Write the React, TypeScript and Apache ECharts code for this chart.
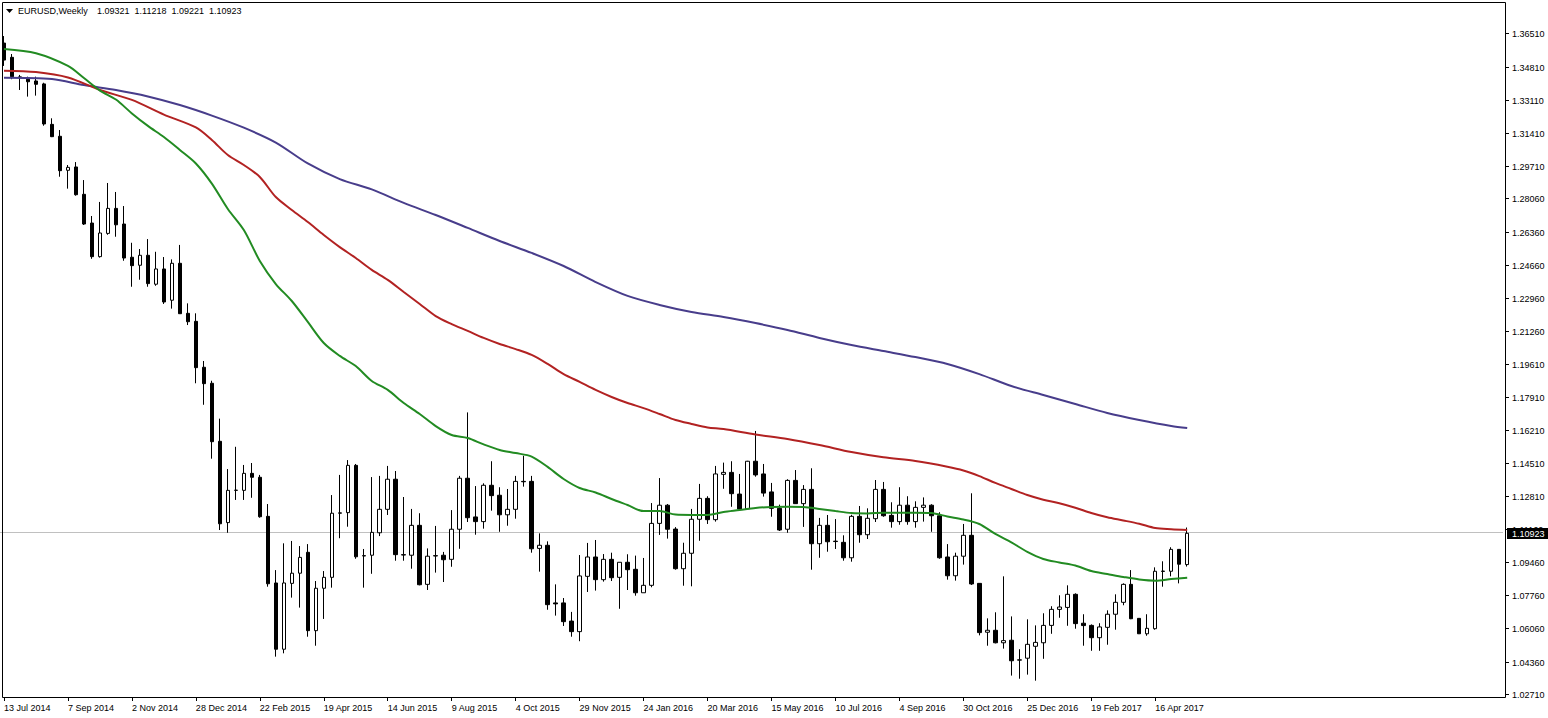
import React, { useEffect, useRef } from "react";
import * as echarts from "echarts";

// ---- Data (weekly EURUSD candles) ----
const open = [
  1.3601, 1.3528, 1.3428, 1.3416, 1.3407, 1.3392, 1.3185, 1.3124, 1.2950, 1.2967,
  1.2827, 1.2680, 1.2508, 1.2627, 1.2755, 1.2675, 1.2505, 1.2464, 1.2515, 1.2367,
  1.2445, 1.2285, 1.2474, 1.2218, 1.2177, 1.1942, 1.1860, 1.1563, 1.1147, 1.1312,
  1.1312, 1.1399, 1.1379, 1.1179, 1.0838, 1.0499, 1.0836, 1.0888, 1.0995, 1.0594,
  1.0811, 1.0867, 1.1195, 1.1198, 1.1440, 1.0976, 1.0980, 1.1095, 1.1215, 1.1369,
  1.0983, 1.0980, 1.1133, 1.0831, 1.0976, 1.0980, 1.0959, 1.1113, 1.1374, 1.1176,
  1.1152, 1.1338, 1.1287, 1.1187, 1.1215, 1.1358, 1.1358, 1.1015, 1.1031, 1.0736,
  1.0736, 1.0643, 1.0589, 1.0872, 1.0971, 1.0855, 1.0959, 1.0867, 1.0944, 1.0908,
  1.0788, 1.0826, 1.1143, 1.1236, 1.1114, 1.0911, 1.0990, 1.1164, 1.1271, 1.1162,
  1.1394, 1.1404, 1.1293, 1.1217, 1.1461, 1.1396, 1.1304, 1.1220, 1.1113, 1.1363,
  1.1244, 1.1317, 1.1039, 1.1133, 1.1052, 1.1046, 1.0967, 1.1179, 1.1085, 1.1167,
  1.1317, 1.1184, 1.1152, 1.1236, 1.1152, 1.1225, 1.1236, 1.1182, 1.0971, 1.0875,
  1.0975, 1.1082, 1.0836, 1.0586, 1.0596, 1.0532, 1.0545, 1.0443, 1.0453, 1.0514,
  1.0532, 1.0621, 1.0703, 1.0713, 1.0780, 1.0632, 1.0621, 1.0558, 1.0611, 1.0678,
  1.0739, 1.0831, 1.0657, 1.0578, 1.0604, 1.0897, 1.0898, 1.1010, 1.09321,
];
const close = [
  1.3514, 1.3429, 1.3426, 1.3403, 1.3390, 1.3187, 1.3122, 1.2948, 1.2965, 1.2825,
  1.2675, 1.2508, 1.2629, 1.2755, 1.2671, 1.2501, 1.2462, 1.2515, 1.2370, 1.2445,
  1.2276, 1.2474, 1.2216, 1.2175, 1.1940, 1.1858, 1.1561, 1.1141, 1.1312, 1.1313,
  1.1399, 1.1379, 1.1177, 1.0834, 1.0499, 1.0838, 1.0888, 1.0969, 1.0594, 1.0811,
  1.0867, 1.1195, 1.1197, 1.1440, 1.0972, 1.0978, 1.1097, 1.1215, 1.1369, 1.0983,
  1.0981, 1.1133, 1.0829, 1.0975, 1.0978, 1.0957, 1.1113, 1.1374, 1.1172, 1.1152,
  1.1338, 1.1285, 1.1187, 1.1215, 1.1358, 1.1356, 1.1013, 1.1031, 1.0727, 1.0731,
  1.0640, 1.0589, 1.0874, 1.0971, 1.0855, 1.0959, 1.0865, 1.0944, 1.0906, 1.0788,
  1.0826, 1.1143, 1.1236, 1.1113, 1.0911, 1.0990, 1.1164, 1.1271, 1.1162, 1.1396,
  1.1404, 1.1295, 1.1217, 1.1461, 1.1391, 1.1298, 1.1220, 1.1109, 1.1363, 1.1244,
  1.1317, 1.1039, 1.1133, 1.1049, 1.1050, 1.0967, 1.1179, 1.1085, 1.1169, 1.1317,
  1.1182, 1.1152, 1.1236, 1.1152, 1.1225, 1.1236, 1.1182, 1.0967, 1.0875, 1.0975,
  1.1082, 1.0833, 1.0584, 1.0596, 1.0532, 1.0543, 1.0440, 1.0445, 1.0524, 1.0534,
  1.0621, 1.0703, 1.0715, 1.0780, 1.0630, 1.0620, 1.0558, 1.0613, 1.0678, 1.0739,
  1.0831, 1.0655, 1.0578, 1.0606, 1.0898, 1.0899, 1.1010, 1.0934, 1.10923,
];
const low = [
  1.3484, 1.3416, 1.3361, 1.3327, 1.3332, 1.3178, 1.3120, 1.2917, 1.2856, 1.2820,
  1.2670, 1.2497, 1.2503, 1.2620, 1.2610, 1.2487, 1.2354, 1.2390, 1.2354, 1.2359,
  1.2266, 1.2242, 1.2215, 1.2158, 1.1860, 1.1750, 1.1474, 1.1109, 1.1095, 1.1263,
  1.1263, 1.1274, 1.1172, 1.0819, 1.0461, 1.0478, 1.0763, 1.0712, 1.0563, 1.0517,
  1.0654, 1.0814, 1.1067, 1.1126, 1.0962, 1.0814, 1.0885, 1.1078, 1.1186, 1.0952,
  1.0952, 1.0911, 1.0826, 1.0802, 1.0891, 1.0843, 1.0921, 1.1013, 1.1150, 1.1085,
  1.1116, 1.1208, 1.1100, 1.1131, 1.1167, 1.1331, 1.0993, 1.0896, 1.0701, 1.0671,
  1.0618, 1.0563, 1.0540, 1.0792, 1.0799, 1.0845, 1.0848, 1.0706, 1.0802, 1.0773,
  1.0788, 1.0816, 1.1084, 1.1065, 1.0906, 1.0824, 1.0821, 1.1054, 1.1140, 1.1152,
  1.1320, 1.1228, 1.1211, 1.1215, 1.1382, 1.1280, 1.1177, 1.1104, 1.1095, 1.1243,
  1.1125, 1.0906, 1.0967, 1.0998, 1.1012, 1.0952, 1.0947, 1.1044, 1.1063, 1.1150,
  1.1177, 1.1121, 1.1136, 1.1136, 1.1121, 1.1152, 1.1100, 1.0962, 1.0855, 1.0850,
  1.0932, 1.0828, 1.0570, 1.0517, 1.0529, 1.0502, 1.0364, 1.0348, 1.0369, 1.0338,
  1.0450, 1.0578, 1.0660, 1.0619, 1.0604, 1.0517, 1.0491, 1.0491, 1.0522, 1.0599,
  1.0724, 1.0653, 1.0577, 1.0568, 1.0599, 1.0819, 1.0872, 1.0836, 1.09221,
];
const high = [
  1.3637, 1.3545, 1.3438, 1.3429, 1.3429, 1.3398, 1.3216, 1.3156, 1.2977, 1.2992,
  1.2900, 1.2716, 1.2788, 1.2885, 1.2839, 1.2767, 1.2579, 1.2547, 1.2598, 1.2533,
  1.2506, 1.2494, 1.2568, 1.2269, 1.2218, 1.1974, 1.1873, 1.1679, 1.1421, 1.1535,
  1.1442, 1.1452, 1.1391, 1.1242, 1.0904, 1.1041, 1.1053, 1.1027, 1.1037, 1.0848,
  1.0899, 1.1288, 1.1391, 1.1467, 1.1447, 1.1012, 1.1380, 1.1386, 1.1437, 1.1411,
  1.1278, 1.1217, 1.1195, 1.1015, 1.1130, 1.0997, 1.1211, 1.1386, 1.1711, 1.1334,
  1.1348, 1.1461, 1.1328, 1.1319, 1.1386, 1.1489, 1.1386, 1.1092, 1.1051, 1.0831,
  1.0761, 1.0690, 1.0981, 1.1043, 1.1058, 1.0986, 1.0993, 1.0944, 1.0985, 1.0978,
  1.0966, 1.1247, 1.1375, 1.1242, 1.1124, 1.1044, 1.1217, 1.1345, 1.1282, 1.1437,
  1.1454, 1.1461, 1.1396, 1.1463, 1.1616, 1.1447, 1.1350, 1.1239, 1.1369, 1.1416,
  1.1339, 1.1425, 1.1171, 1.1186, 1.1165, 1.1082, 1.1187, 1.1232, 1.1220, 1.1365,
  1.1355, 1.1251, 1.1328, 1.1282, 1.1256, 1.1276, 1.1241, 1.1200, 1.1037, 1.0993,
  1.1140, 1.1297, 1.0836, 1.0657, 1.0688, 1.0872, 1.0667, 1.0499, 1.0652, 1.0621,
  1.0683, 1.0719, 1.0775, 1.0826, 1.0785, 1.0678, 1.0626, 1.0632, 1.0698, 1.0780,
  1.0836, 1.0904, 1.0657, 1.0678, 1.0918, 1.0949, 1.1021, 1.1010, 1.11218,
];

// Moving averages (week index -> value)
const maFastIdx = [0, 4, 8, 10, 12, 14, 16, 18, 20, 22, 24, 26, 28, 30, 32, 34, 36, 38, 40, 42, 44, 46, 48, 50, 52, 54, 56, 58, 60, 62, 64, 66, 68, 70, 72, 74, 76, 78, 80, 82, 84, 86, 88, 90, 92, 94, 96, 98, 100, 102, 104, 106, 108, 110, 112, 114, 116, 118, 120, 122, 124, 126, 128, 130, 132, 134, 136, 138, 140, 142, 144, 146, 148];
const maFastVal = [1.3571, 1.3549, 1.3484, 1.3422, 1.3358, 1.3312, 1.3241, 1.3177, 1.3120, 1.3054, 1.2985, 1.2882, 1.2752, 1.2644, 1.2486, 1.2368, 1.2281, 1.2174, 1.2066, 1.2000, 1.1948, 1.1872, 1.1826, 1.1759, 1.1703, 1.1641, 1.1595, 1.1580, 1.1547, 1.1519, 1.1503, 1.1485, 1.1432, 1.1370, 1.1324, 1.1301, 1.1268, 1.1237, 1.1206, 1.1206, 1.1188, 1.1186, 1.1186, 1.1201, 1.1211, 1.1222, 1.1227, 1.1228, 1.1227, 1.1217, 1.1206, 1.1196, 1.1194, 1.1198, 1.1198, 1.1198, 1.1196, 1.1178, 1.1163, 1.1140, 1.1089, 1.1046, 1.0997, 1.0961, 1.0943, 1.0927, 1.0899, 1.0884, 1.0869, 1.0856, 1.0850, 1.0858, 1.0865];

const maMidIdx = [0, 4, 8, 12, 16, 20, 24, 26, 28, 30, 32, 34, 36, 38, 40, 42, 44, 46, 48, 50, 52, 54, 56, 58, 60, 62, 64, 66, 68, 70, 72, 74, 76, 78, 80, 82, 84, 86, 88, 90, 94, 98, 102, 106, 110, 114, 118, 120, 122, 124, 126, 128, 130, 132, 134, 136, 138, 140, 142, 144, 146, 148];
const maMidVal = [1.3460, 1.3453, 1.3425, 1.3361, 1.3310, 1.3235, 1.3169, 1.3105, 1.3028, 1.2977, 1.2916, 1.2813, 1.2747, 1.2685, 1.2619, 1.2557, 1.2501, 1.2440, 1.2389, 1.2327, 1.2266, 1.2204, 1.2163, 1.2128, 1.2092, 1.2061, 1.2035, 1.2005, 1.1959, 1.1907, 1.1867, 1.1826, 1.1790, 1.1759, 1.1733, 1.1703, 1.1672, 1.1652, 1.1634, 1.1626, 1.1598, 1.1575, 1.1544, 1.1508, 1.1481, 1.1462, 1.1433, 1.1414, 1.1385, 1.1350, 1.1319, 1.1288, 1.1264, 1.1246, 1.1223, 1.1196, 1.1174, 1.1158, 1.1141, 1.1119, 1.1113, 1.1109];

const maSlowIdx = [0, 6, 10, 14, 18, 22, 26, 30, 34, 38, 42, 46, 50, 54, 58, 62, 66, 70, 74, 78, 82, 86, 90, 94, 98, 102, 106, 110, 114, 118, 122, 126, 130, 134, 138, 142, 146, 148];
const maSlowVal = [1.3424, 1.3417, 1.3386, 1.3361, 1.3328, 1.3284, 1.3230, 1.3168, 1.3092, 1.2985, 1.2905, 1.2852, 1.2783, 1.2721, 1.2655, 1.2588, 1.2527, 1.2460, 1.2378, 1.2307, 1.2261, 1.2225, 1.2199, 1.2168, 1.2133, 1.2092, 1.2056, 1.2025, 1.1994, 1.1959, 1.1907, 1.1846, 1.1800, 1.1754, 1.1708, 1.1672, 1.1641, 1.1631];

const dateLabels = [
  "13 Jul 2014", "7 Sep 2014", "2 Nov 2014", "28 Dec 2014", "22 Feb 2015",
  "19 Apr 2015", "14 Jun 2015", "9 Aug 2015", "4 Oct 2015", "29 Nov 2015",
  "24 Jan 2016", "20 Mar 2016", "15 May 2016", "10 Jul 2016", "4 Sep 2016",
  "30 Oct 2016", "25 Dec 2016", "19 Feb 2017", "16 Apr 2017",
];
const labelEvery = 8;

const priceTicks = [
  1.3651, 1.3481, 1.3311, 1.3141, 1.2971, 1.2806, 1.2636, 1.2466, 1.2296, 1.2126,
  1.1961, 1.1791, 1.1621, 1.1451, 1.1281, 1.1116, 1.0946, 1.0776, 1.0606, 1.0436, 1.0271,
];
const lastPrice = 1.10923;
const headerTitle = "EURUSD,Weekly";
const headerValues = "1.09321 1.11218 1.09221 1.10923";

const totalSlots = 188;
const yMin = 1.02545;
const yMax = 1.38112;

const FONT = "'Liberation Sans', Arial, sans-serif";

export default function App() {
  const ref = useRef<HTMLDivElement>(null);

  useEffect(() => {
    if (!ref.current) return;
    const chart = echarts.init(ref.current, undefined, { renderer: "svg" });

    const cats = Array.from({ length: totalSlots }, (_, i) => String(i));
    const candleData = open.map((o, i) => [o, close[i], low[i], high[i]]);
    const showTick = (idx: number) =>
      idx % labelEvery === 0 && idx / labelEvery < dateLabels.length;

    const option: any = {
      animation: false,
      backgroundColor: "#ffffff",
      textStyle: { fontFamily: FONT },
      grid: { left: -1, top: 2, width: totalSlots * 8, height: 695, containLabel: false },
      xAxis: {
        type: "category",
        data: cats,
        boundaryGap: true,
        axisLine: { show: false },
        axisTick: {
          show: true,
          alignWithLabel: true,
          length: 4,
          interval: (idx: number) => showTick(idx),
          lineStyle: { color: "#000", width: 1 },
        },
        axisLabel: {
          show: true,
          interval: (idx: number) => showTick(idx),
          formatter: (_v: string, idx: number) =>
            showTick(idx) ? dateLabels[idx / labelEvery] : "",
          align: "left",
          margin: 6,
          fontSize: 9,
          color: "#000",
          fontFamily: FONT,
        },
        splitLine: { show: false },
      },
      yAxis: {
        type: "value",
        position: "right",
        min: yMin,
        max: yMax,
        scale: true,
        axisLine: { show: false },
        axisTick: { show: false },
        axisLabel: { show: false },
        splitLine: { show: false },
      },
      series: [
        {
          type: "candlestick",
          data: candleData,
          barWidth: 4,
          itemStyle: {
            color: "#ffffff",
            color0: "#000000",
            borderColor: "#000000",
            borderColor0: "#000000",
            borderWidth: 1,
          },
          markLine: {
            silent: true,
            symbol: "none",
            label: { show: false },
            lineStyle: { color: "#c0c0c0", width: 1, type: "solid" },
            data: [{ yAxis: lastPrice }],
            z: 0,
          },
          z: 2,
        },
        {
          type: "line",
          data: maSlowIdx.map((x, i) => [x, maSlowVal[i]]),
          showSymbol: false,
          smooth: 0.3,
          lineStyle: { color: "#483d8b", width: 2 },
          z: 3,
        },
        {
          type: "line",
          data: maMidIdx.map((x, i) => [x, maMidVal[i]]),
          showSymbol: false,
          smooth: 0.3,
          lineStyle: { color: "#b22222", width: 2 },
          z: 3,
        },
        {
          type: "line",
          data: maFastIdx.map((x, i) => [x, maFastVal[i]]),
          showSymbol: false,
          smooth: 0.3,
          lineStyle: { color: "#228b22", width: 2 },
          z: 3,
        },
      ],
    };
    chart.setOption(option);

    const py = (v: number) => chart.convertToPixel({ yAxisIndex: 0 }, v) as number;
    const axisX = 1505;
    const graphics: any[] = [];
    graphics.push({
      type: "rect",
      shape: { x: 2.5, y: 2.5, width: axisX - 2, height: 695 },
      style: { fill: "none", stroke: "#000", lineWidth: 1 },
      z: 10,
      silent: true,
    });
    priceTicks.forEach((v) => {
      const y = Math.round(py(v)) + 0.5;
      graphics.push({
        type: "line",
        shape: { x1: axisX, y1: y, x2: axisX + 4, y2: y },
        style: { stroke: "#000", lineWidth: 1 },
        z: 10,
      });
      graphics.push({
        type: "text",
        x: axisX + 7,
        y: y,
        style: {
          text: v.toFixed(5),
          fill: "#000",
          font: `9px ${FONT}`,
          verticalAlign: "middle",
          align: "left",
        },
        z: 10,
      });
    });
    const ly = Math.round(py(lastPrice));
    graphics.push({
      type: "rect",
      shape: { x: axisX + 2, y: ly - 5, width: 41, height: 11 },
      style: { fill: "#000" },
      z: 20,
    });
    graphics.push({
      type: "text",
      x: axisX + 7,
      y: ly + 0.5,
      style: {
        text: lastPrice.toFixed(5),
        fill: "#fff",
        font: `9px ${FONT}`,
        verticalAlign: "middle",
        align: "left",
      },
      z: 21,
    });
    graphics.push({
      type: "polygon",
      shape: { points: [[6, 9], [13, 9], [9.5, 13]] },
      style: { fill: "#000" },
      z: 10,
    });
    graphics.push({
      type: "text",
      x: 18,
      y: 11,
      style: {
        text: headerTitle,
        fill: "#000",
        font: `9px ${FONT}`,
        verticalAlign: "middle",
      },
      z: 10,
    });
    graphics.push({
      type: "text",
      x: 97,
      y: 11,
      style: {
        text: headerValues.split(" ").join("  "),
        fill: "#000",
        font: `9px ${FONT}`,
        verticalAlign: "middle",
      },
      z: 10,
    });
    chart.setOption({ graphic: graphics });

    return () => chart.dispose();
  }, []);

  return (
    <div
      ref={ref}
      style={{
        position: "absolute",
        left: 0,
        top: 0,
        width: 1548,
        height: 718,
        background: "#fff",
      }}
    />
  );
}
